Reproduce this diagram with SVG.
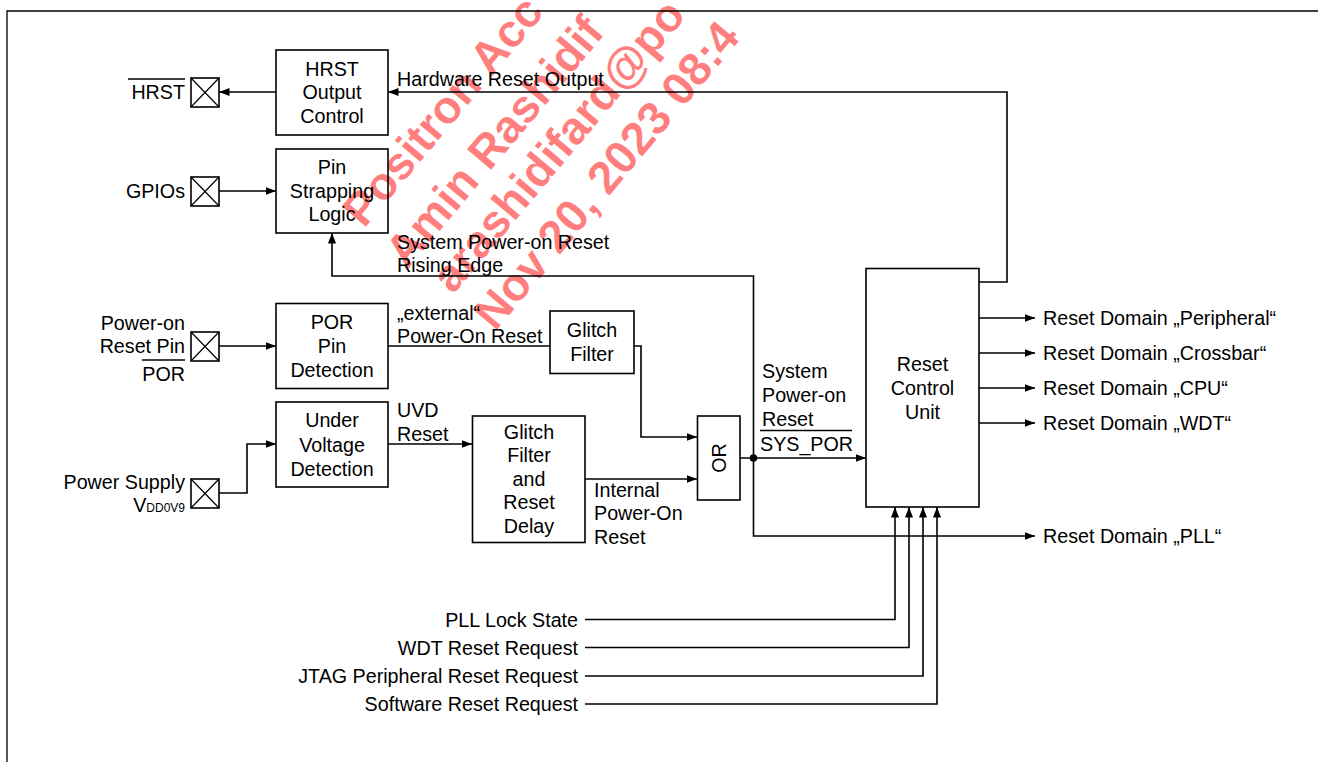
<svg xmlns="http://www.w3.org/2000/svg" width="1318" height="762" viewBox="0 0 1318 762">
<style>
  .t{font-family:"Liberation Sans",Arial,sans-serif;font-size:19.7px;fill:#000}
  .m{text-anchor:middle}
  .e{text-anchor:end}
  .sub{font-size:12px}
  .box{fill:none;stroke:#000;stroke-width:1.6}
  .w{stroke:#000;stroke-width:1.6;fill:none}
  .wm{font-family:"Liberation Sans",Arial,sans-serif;font-weight:bold;font-size:46px;fill:#ff0000;fill-opacity:0.5}
</style>
<defs>
  <marker id="ah" markerWidth="11" markerHeight="9" refX="10.5" refY="4.5" orient="auto" markerUnits="userSpaceOnUse">
    <path d="M0,0.5 L10.5,4.5 L0,8.5 Z" fill="#000"/>
  </marker>
  <g id="pinx">
    <rect x="0" y="0" width="28" height="29" fill="none" stroke="#000" stroke-width="1.6"/>
    <path d="M0,0 L28,29 M28,0 L0,29" stroke="#000" stroke-width="1.2"/>
  </g>
</defs>
<rect width="1318" height="762" fill="#fff"/>
<g id="watermark">
  <text class="wm" transform="translate(364,229) rotate(-50)">Positron Acc</text>
  <text class="wm" transform="translate(407,270) rotate(-50)">Amin Rashidif</text>
  <text class="wm" transform="translate(453,295) rotate(-50)">arashidifard@po</text>
  <text class="wm" transform="translate(495,332) rotate(-50)">Nov 20, 2023 08:4</text>
</g>
<path id="frame" d="M7,762 V11 H1318" fill="none" stroke="#000" stroke-width="1.3"/>

<g id="connectors">
  <path class="w" d="M979,282 H1007 V92 H388" marker-end="url(#ah)"/>
  <path class="w" d="M276,92 H219" marker-end="url(#ah)"/>
  <path class="w" d="M219,191 H276" marker-end="url(#ah)"/>
  <path class="w" d="M753.5,458 V276 H332 V233" marker-end="url(#ah)"/>
  <path class="w" d="M753.5,458 V536 H1035" marker-end="url(#ah)"/>
  <path class="w" d="M219,346 H276" marker-end="url(#ah)"/>
  <path class="w" d="M388,346 H550"/>
  <path class="w" d="M634,346 H641 V437 H697" marker-end="url(#ah)"/>
  <path class="w" d="M219,493 H247 V444 H276" marker-end="url(#ah)"/>
  <path class="w" d="M388,444 H472" marker-end="url(#ah)"/>
  <path class="w" d="M585,479 H697" marker-end="url(#ah)"/>
  <path class="w" d="M740,458 H866" marker-end="url(#ah)"/>
  <circle cx="753.5" cy="458" r="3.8" fill="#000"/>
  <path class="w" d="M979,318 H1035" marker-end="url(#ah)"/>
  <path class="w" d="M979,353 H1035" marker-end="url(#ah)"/>
  <path class="w" d="M979,388 H1035" marker-end="url(#ah)"/>
  <path class="w" d="M979,423 H1035" marker-end="url(#ah)"/>
  <path class="w" d="M585,619.5 H895 V507" marker-end="url(#ah)"/>
  <path class="w" d="M585,647.5 H909 V507" marker-end="url(#ah)"/>
  <path class="w" d="M585,676 H923 V507" marker-end="url(#ah)"/>
  <path class="w" d="M585,704 H937 V507" marker-end="url(#ah)"/>
  <text class="t" x="397" y="86">Hardware Reset Output</text>
  <text class="t" x="397" y="249">System Power-on Reset</text>
  <text class="t" x="397" y="272">Rising Edge</text>
  <text class="t" x="397" y="320">„external“</text>
  <text class="t" x="397" y="343">Power-On Reset</text>
  <text class="t" x="397" y="417">UVD</text>
  <text class="t" x="397" y="441">Reset</text>
  <text class="t" x="594" y="497">Internal</text>
  <text class="t" x="594" y="520">Power-On</text>
  <text class="t" x="594" y="544">Reset</text>
  <text class="t" x="762" y="378">System</text>
  <text class="t" x="762" y="402">Power-on</text>
  <text class="t" x="762" y="426">Reset</text>
  <line x1="760" y1="430.5" x2="852" y2="430.5" stroke="#000" stroke-width="1.4"/>
  <text class="t" x="760" y="451">SYS_POR</text>
  <text class="t" x="1043" y="325">Reset Domain „Peripheral“</text>
  <text class="t" x="1043" y="360">Reset Domain „Crossbar“</text>
  <text class="t" x="1043" y="395">Reset Domain „CPU“</text>
  <text class="t" x="1043" y="430">Reset Domain „WDT“</text>
  <text class="t" x="1043" y="543">Reset Domain „PLL“</text>
  <text class="t e" x="578" y="626.5">PLL Lock State</text>
  <text class="t e" x="578" y="654.5">WDT Reset Request</text>
  <text class="t e" x="578" y="683">JTAG Peripheral Reset Request</text>
  <text class="t e" x="578" y="711">Software Reset Request</text>
</g>

<g id="pin-hrst">
  <use href="#pinx" x="191" y="78"/>
  <text class="t e" x="185" y="99">HRST</text>
  <line x1="128" y1="79" x2="185" y2="79" stroke="#000" stroke-width="1.4"/>
</g>
<g id="pin-gpios">
  <use href="#pinx" x="191" y="177"/>
  <text class="t e" x="185" y="198">GPIOs</text>
</g>
<g id="pin-por">
  <use href="#pinx" x="191" y="332"/>
  <text class="t e" x="185" y="330">Power-on</text>
  <text class="t e" x="185" y="353">Reset Pin</text>
  <line x1="142" y1="360" x2="185" y2="360" stroke="#000" stroke-width="1.4"/>
  <text class="t e" x="185" y="381">POR</text>
</g>
<g id="pin-vdd">
  <use href="#pinx" x="191" y="479"/>
  <text class="t e" x="185" y="489">Power Supply</text>
  <text class="t e" x="185" y="512">V<tspan class="sub">DD0V9</tspan></text>
</g>

<g id="hrst-output-control">
  <rect class="box" x="276" y="50" width="112" height="85"/>
  <text class="t m" x="332" y="76">HRST</text>
  <text class="t m" x="332" y="99">Output</text>
  <text class="t m" x="332" y="123">Control</text>
</g>
<g id="pin-strapping-logic">
  <rect class="box" x="276" y="149" width="112" height="84"/>
  <text class="t m" x="332" y="174">Pin</text>
  <text class="t m" x="332" y="198">Strapping</text>
  <text class="t m" x="332" y="221">Logic</text>
</g>
<g id="por-pin-detection">
  <rect class="box" x="276" y="303.5" width="112" height="85"/>
  <text class="t m" x="332" y="328.5">POR</text>
  <text class="t m" x="332" y="352.5">Pin</text>
  <text class="t m" x="332" y="376.5">Detection</text>
</g>
<g id="under-voltage-detection">
  <rect class="box" x="276" y="402" width="112" height="85"/>
  <text class="t m" x="332" y="427">Under</text>
  <text class="t m" x="332" y="451.5">Voltage</text>
  <text class="t m" x="332" y="475.5">Detection</text>
</g>
<g id="glitch-filter">
  <rect class="box" x="550" y="311" width="84" height="62.5"/>
  <text class="t m" x="592" y="337">Glitch</text>
  <text class="t m" x="592" y="361">Filter</text>
</g>
<g id="glitch-filter-reset-delay">
  <rect class="box" x="472.5" y="416" width="112.5" height="126.5"/>
  <text class="t m" x="529" y="438.5">Glitch</text>
  <text class="t m" x="529" y="462">Filter</text>
  <text class="t m" x="529" y="485.5">and</text>
  <text class="t m" x="529" y="509">Reset</text>
  <text class="t m" x="529" y="532.5">Delay</text>
</g>
<g id="or-gate">
  <rect class="box" x="697.5" y="416" width="42.5" height="84"/>
  <text class="t m" transform="translate(725.5,458) rotate(-90)">OR</text>
</g>
<g id="reset-control-unit">
  <rect class="box" x="866" y="268.5" width="113" height="238.5"/>
  <text class="t m" x="922.5" y="371">Reset</text>
  <text class="t m" x="922.5" y="395">Control</text>
  <text class="t m" x="922.5" y="418.5">Unit</text>
</g>
</svg>
